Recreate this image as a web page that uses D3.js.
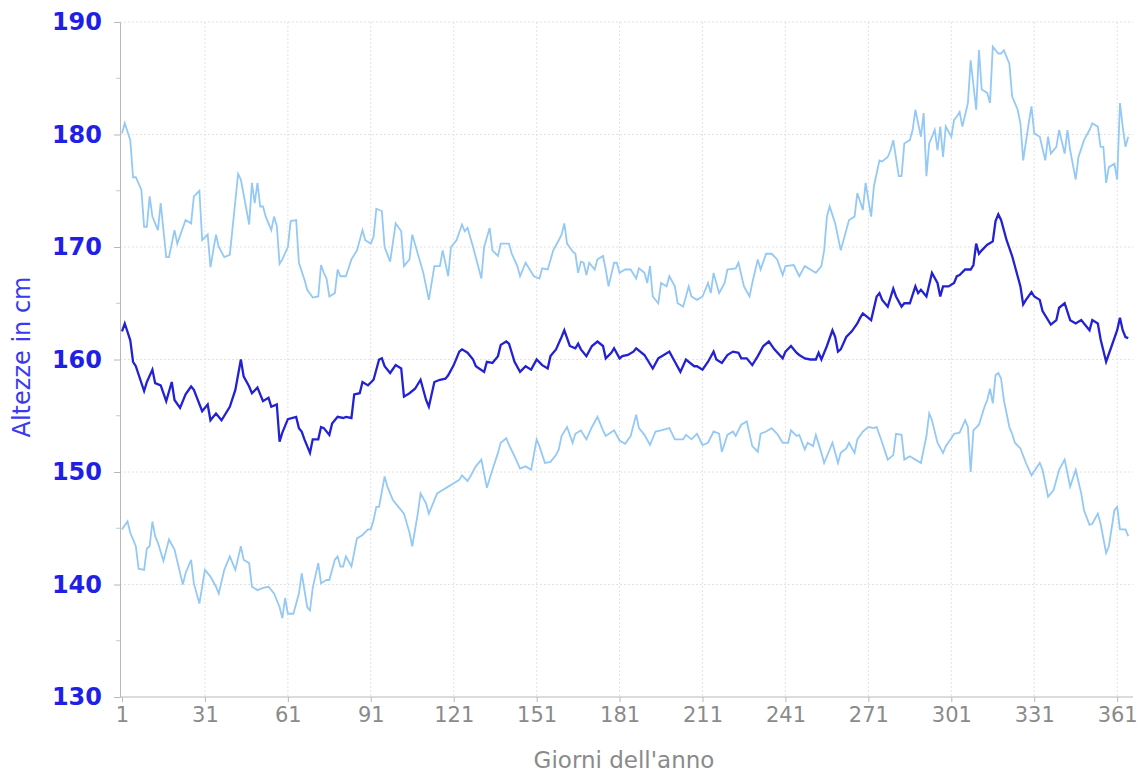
<!DOCTYPE html>
<meta charset="utf-8">
<head>
<style>
body { margin: 0; background: #fff; }
svg { display: block; }
.grid line { stroke: #e2e2e2; stroke-dasharray: 2,2; }
.ytick text { font: bold 24px "DejaVu Sans", Verdana, sans-serif; fill: #1f1fe6; }
.xtick text { font: 21px "DejaVu Sans", Verdana, sans-serif; fill: #8a8a8a; }
</style>
<script src="https://d3js.org/d3.v7.min.js"></script>
</head>
<body>
<svg width="1143" height="772"></svg>
<script>

// massima (linea superiore): day, cm
var maxDays = [1,2,4,5,6,8,9,10,11,12,14,15,17,18,20,21,24,26,27,29,30,32,33,35,36,38,40,43,44,47,48,49,50,51,52,53,55,56,57,58,59,61,62,64,65,67,68,70,72,73,74,75,76,78,79,80,82,84,86,88,89,91,92,93,95,96,98,100,102,103,105,106,108,110,112,114,116,117,119,120,122,124,125,126,128,131,132,134,135,137,138,141,142,144,145,147,150,152,153,155,157,159,160,161,162,164,165,166,167,168,169,170,172,173,175,176,177,179,180,181,183,185,187,188,190,191,192,193,195,196,198,199,201,202,204,206,207,209,211,213,214,215,217,219,220,223,224,226,228,229,231,232,234,236,238,240,241,244,246,248,250,252,254,255,256,257,259,261,263,264,266,267,269,270,272,273,275,276,278,279,280,282,283,284,286,287,288,290,291,292,293,295,296,297,298,299,301,302,303,304,305,307,308,310,311,312,314,315,316,318,319,320,322,323,325,326,327,329,330,331,333,335,336,337,339,340,342,343,344,346,347,349,351,352,354,355,356,357,358,360,361,362,363,364,365];
var maxCm = [180.1,181.0,179.5,176.2,176.2,175.1,171.8,171.8,174.5,172.7,171.5,173.9,169.1,169.1,171.5,170.3,172.4,172.1,174.5,175.0,170.6,171.1,168.2,171.1,170.0,169.1,169.3,176.5,176.0,172.0,175.7,173.9,175.7,173.6,173.6,172.7,171.5,172.7,171.9,168.5,168.9,170.0,172.3,172.4,168.6,167.1,166.2,165.5,165.6,168.4,167.7,167.2,165.6,165.9,168.0,167.4,167.4,168.9,169.7,171.5,170.6,170.3,170.9,173.4,173.2,170.0,168.7,172.1,171.4,168.3,168.9,171.1,169.4,167.7,165.3,168.3,168.3,169.7,167.4,170.0,170.6,172.0,171.4,171.7,170.0,167.2,170.0,171.7,169.7,169.2,170.3,170.3,169.4,168.3,167.4,168.6,167.4,167.2,168.1,168.0,169.7,170.6,171.1,172.1,170.3,169.6,169.4,167.7,168.7,168.6,167.5,168.6,168.0,168.9,169.2,168.0,166.5,168.6,168.6,167.7,168.0,168.0,167.2,168.1,167.7,166.8,168.3,165.6,165.0,166.8,166.5,167.4,166.5,165.0,164.7,166.5,165.6,165.3,165.6,166.8,165.9,167.7,165.9,166.8,168.0,168.1,168.6,166.5,165.6,166.8,168.9,168.0,169.4,169.4,168.9,167.5,168.3,168.4,167.4,168.3,168.0,167.7,168.3,169.7,172.7,173.6,172.1,169.7,171.5,172.4,172.7,174.8,173.3,175.7,172.7,175.4,177.7,177.6,178.0,178.6,179.5,176.3,176.3,179.2,179.5,180.4,182.2,179.8,181.9,176.3,179.2,180.4,178.6,180.7,178.0,180.7,179.8,181.3,181.6,182.0,180.7,182.8,186.6,182.2,187.5,184.0,183.7,182.8,187.8,187.2,187.2,187.5,186.3,183.4,182.2,181.0,177.7,181.0,182.5,180.1,179.8,177.7,179.8,178.3,178.9,180.4,178.3,180.4,178.6,176.0,178.0,179.5,180.4,181.0,180.7,178.9,178.9,175.7,177.1,177.4,176.0,182.8,180.7,178.9,179.8];

// media (linea centrale)
var meanDays = [1,2,4,5,6,9,10,12,13,15,17,19,20,22,24,26,27,30,32,33,35,37,40,42,44,45,47,48,50,52,54,55,57,58,59,61,64,65,66,67,69,70,72,73,74,76,77,79,81,82,84,85,87,88,90,92,94,95,96,98,100,102,103,105,107,109,111,112,114,116,118,119,121,123,124,126,128,129,132,133,135,137,138,140,141,143,145,147,149,151,153,155,156,158,160,161,163,165,166,167,169,171,173,175,176,178,179,181,182,184,186,187,190,191,193,195,197,199,201,203,205,208,209,211,213,215,216,218,220,222,224,225,227,229,231,233,235,237,240,241,243,245,246,248,250,252,253,254,256,258,259,260,261,263,265,267,268,269,271,272,274,275,276,278,280,281,283,284,286,288,289,290,292,294,296,297,298,300,302,303,304,306,308,309,310,311,312,314,316,317,318,319,321,323,325,326,327,328,330,331,333,334,337,339,340,342,344,346,348,349,351,352,354,355,357,359,361,362,363,364,365];
var meanCm = [162.5,163.2,161.7,159.8,159.4,157.2,158.0,159.1,157.9,157.7,156.3,158.0,156.4,155.7,156.9,157.6,157.3,155.4,156.0,154.6,155.2,154.6,155.8,157.3,160.0,158.5,157.6,157.0,157.5,156.3,156.6,155.8,156.0,152.7,153.5,154.7,154.9,153.9,153.6,152.9,151.7,152.9,152.9,154.0,153.9,153.3,154.3,154.9,154.8,154.9,154.8,156.9,157.0,158.0,157.7,158.2,160.0,160.1,159.4,158.8,159.5,159.2,156.7,157.0,157.4,158.2,156.4,155.8,158.0,158.2,158.3,158.6,159.5,160.7,160.9,160.6,160.0,159.4,158.9,159.8,159.7,160.3,161.3,161.6,161.4,159.8,158.9,159.4,159.1,160.0,159.5,159.2,160.3,160.9,162.0,162.6,161.2,161.0,161.4,160.9,160.3,161.2,161.6,161.2,160.1,160.6,161.0,160.1,160.3,160.4,160.7,161.0,160.4,160.0,159.2,160.1,160.4,160.7,159.8,158.9,160.0,159.4,159.4,159.1,159.8,160.7,160.0,159.7,160.4,160.7,160.6,160.1,160.1,159.5,160.3,161.2,161.6,160.9,160.1,160.7,161.2,160.6,160.4,160.1,160.0,160.0,160.6,160.0,161.2,162.6,162.0,160.7,160.9,162.0,162.5,163.2,163.7,164.1,163.7,163.5,165.6,165.9,165.3,164.7,166.3,165.6,164.7,165.0,165.0,166.5,165.9,166.2,165.6,167.7,166.8,165.6,166.5,166.5,166.8,167.4,167.5,168.0,168.0,168.4,170.3,169.4,169.7,170.2,170.5,172.3,172.9,172.4,170.6,169.2,167.4,166.5,164.9,165.3,166.0,165.6,165.3,164.3,163.1,163.5,164.6,165.0,163.5,163.2,163.5,163.2,162.6,163.5,163.2,161.8,159.8,161.2,162.6,163.7,162.6,162.0,161.9];

// minima (linea inferiore)
var minDays = [1,3,4,6,7,9,10,11,12,13,14,16,18,20,23,24,26,27,29,31,33,35,36,38,40,42,44,45,47,48,50,52,54,56,57,58,59,60,61,63,65,66,68,69,70,72,73,75,76,78,79,80,81,82,84,86,88,90,91,92,93,94,96,97,99,101,103,105,106,108,109,111,112,114,115,117,119,121,123,124,126,127,129,131,133,135,137,138,140,141,143,145,147,149,151,152,154,156,158,159,160,162,164,165,167,169,171,173,175,176,179,181,183,185,187,188,190,192,194,196,199,201,204,205,207,209,211,213,215,217,218,220,222,223,225,227,229,231,232,234,236,238,240,242,243,245,246,248,249,251,252,254,255,257,258,260,261,263,264,266,267,269,271,273,274,276,278,280,281,283,284,286,288,290,292,293,294,296,298,299,301,302,304,306,307,308,309,311,313,314,315,316,317,318,319,320,322,323,324,326,328,330,333,334,336,338,340,342,344,346,348,349,351,352,354,355,357,358,360,361,362,364,365];
var minCm = [144.9,145.6,144.6,143.4,141.4,141.3,143.2,143.4,145.6,144.3,143.7,142.1,144.0,143.1,140.0,141.0,142.2,140.1,138.3,141.3,140.7,139.8,139.2,141.3,142.5,141.3,143.4,142.2,141.9,139.8,139.5,139.7,139.8,139.2,138.6,138.0,137.0,138.8,137.4,137.4,139.2,141.0,138.0,137.7,139.7,141.9,140.1,140.4,140.4,142.2,142.5,141.6,141.6,142.5,141.6,144.1,144.4,144.9,144.9,145.7,146.9,146.9,149.6,148.7,147.5,146.9,146.3,144.6,143.4,146.3,148.1,147.2,146.3,147.5,148.1,148.4,148.7,149.0,149.3,149.7,149.2,149.6,150.5,151.1,148.6,150.2,151.7,152.6,153.0,152.4,151.4,150.3,150.5,150.2,152.9,152.3,150.8,150.9,151.5,152.0,153.2,154.0,152.6,153.4,153.7,152.9,154.0,154.9,153.7,153.2,153.7,152.8,152.5,153.2,155.1,153.9,153.3,152.4,153.6,153.7,153.9,152.9,152.9,153.3,152.9,153.4,152.4,152.6,153.6,153.4,151.8,153.3,153.6,153.2,154.2,154.5,152.3,151.8,153.4,153.6,153.9,153.4,152.6,152.6,153.7,153.2,153.3,152.0,152.6,152.3,153.3,151.7,150.8,152.0,152.6,150.8,151.7,152.1,152.6,151.7,152.9,153.6,154.0,153.9,154.0,152.6,151.1,151.5,153.4,153.3,151.1,151.4,151.1,150.8,153.2,155.2,154.6,152.6,151.7,152.3,153.0,153.4,153.5,154.6,154.0,150.0,153.7,154.2,155.8,156.4,157.4,156.1,158.6,158.8,158.3,156.4,154.0,153.4,152.6,152.1,150.8,149.7,150.8,150.2,147.8,148.4,150.2,151.1,148.7,150.2,148.1,146.6,145.3,145.4,146.3,145.4,142.8,143.4,146.6,146.9,144.9,144.9,144.3];

var xTicks = [1,31,61,91,121,151,181,211,241,271,301,331,361];
var yTicks = [130,140,150,160,170,180,190];
var yMinor = [135,145,155,165,175,185];

var svg = d3.select("svg");

var x = d3.scaleLinear().domain([1, 366]).range([122, 1131]);
var y = d3.scaleLinear().domain([130, 190]).range([697, 22]);

// grid
var grid = svg.append("g").attr("class", "grid");
grid.selectAll(".vg")
  .data(xTicks.slice(1))
  .enter().append("line")
    .attr("x1", d => x(d)).attr("x2", d => x(d))
    .attr("y1", y(190)).attr("y2", y(130));
grid.selectAll(".hg")
  .data(yTicks.slice(1))
  .enter().append("line")
    .attr("x1", 120).attr("x2", 1133)
    .attr("y1", d => y(d)).attr("y2", d => y(d));

// axes
var yAxis = svg.append("g")
  .attr("class", "ytick")
  .attr("transform", "translate(120,0)")
  .call(d3.axisLeft(y).tickValues(yTicks).tickSize(6).tickPadding(12).tickFormat(d3.format("d")));
yAxis.select(".domain").attr("stroke", "#b8b8b8");
yAxis.selectAll(".tick line").attr("stroke", "#b8b8b8");

svg.append("g")
  .attr("transform", "translate(120,0)")
  .selectAll("line")
  .data(yMinor)
  .enter().append("line")
    .attr("x1", -4).attr("x2", 0)
    .attr("y1", d => y(d)).attr("y2", d => y(d))
    .attr("stroke", "#c8c8c8");

var xAxis = svg.append("g")
  .attr("class", "xtick")
  .attr("transform", "translate(0,697)")
  .call(d3.axisBottom(x).tickValues(xTicks).tickSize(5).tickPadding(5).tickFormat(d3.format("d")));
xAxis.select(".domain").attr("d", "M120,0H1133").attr("stroke", "#b8b8b8");
xAxis.selectAll(".tick line").attr("stroke", "#b8b8b8");

// titles
svg.append("text")
  .attr("transform", "translate(30,357) rotate(-90)")
  .attr("text-anchor", "middle")
  .style("font", "24px 'DejaVu Sans', Verdana, sans-serif")
  .style("fill", "#3a3af0")
  .text("Altezze in cm");

svg.append("text")
  .attr("x", 624)
  .attr("y", 768)
  .attr("text-anchor", "middle")
  .style("font", "23px 'DejaVu Sans', Verdana, sans-serif")
  .style("fill", "#8a8a8a")
  .text("Giorni dell'anno");

// lines
function series(days, vals) {
  return days.map(function(d, i) { return [d, vals[i]]; });
}
var line = d3.line().x(d => x(d[0])).y(d => y(d[1]));

svg.append("path")
  .datum(series(maxDays, maxCm))
  .attr("fill", "none")
  .attr("stroke", "#94c9f5")
  .attr("stroke-width", 1.8)
  .attr("d", line);

svg.append("path")
  .datum(series(minDays, minCm))
  .attr("fill", "none")
  .attr("stroke", "#94c9f5")
  .attr("stroke-width", 1.8)
  .attr("d", line);

svg.append("path")
  .datum(series(meanDays, meanCm))
  .attr("fill", "none")
  .attr("stroke", "#2222d4")
  .attr("stroke-width", 2.3)
  .attr("d", line);

</script>
</body>
